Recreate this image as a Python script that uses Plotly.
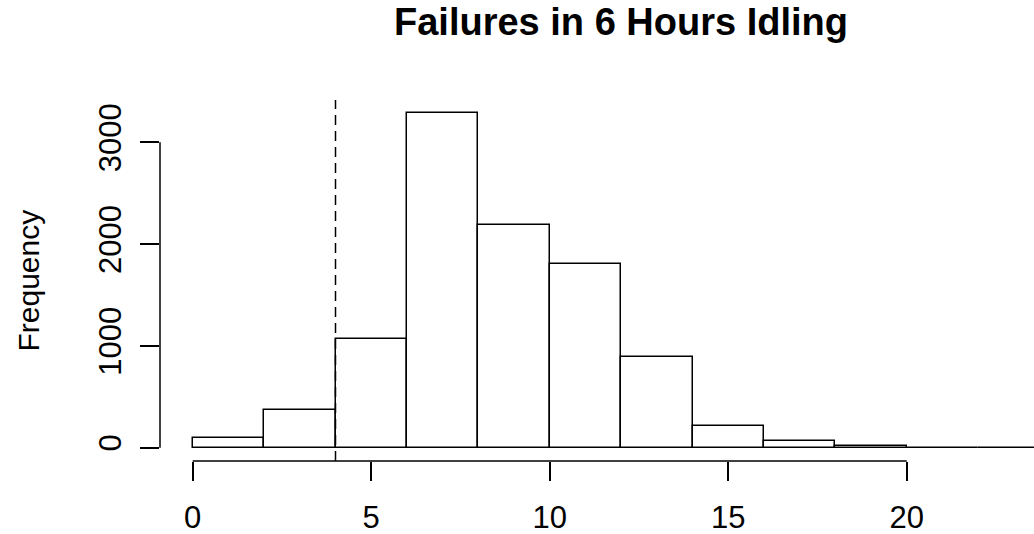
import plotly.graph_objects as go

# Histogram data (bins of width 2)
bin_starts = [0, 2, 4, 6, 8, 10, 12, 14, 16, 18, 20, 22]
bin_width = 2
counts = [98, 374, 1070, 3285, 2187, 1808, 886, 217, 62, 20, 1, 1]
x_ticks = [0, 5, 10, 15, 20]
y_ticks = [0, 1000, 2000, 3000]
cutoff = 4
title_text = "Failures in 6 Hours Idling"
ylab = "Frequency"

centers = [b + bin_width / 2 for b in bin_starts]
M = max(counts)

FONT = "Liberation Sans, Arial, sans-serif"
LW = 1.5

fig = go.Figure()
fig.add_trace(go.Bar(
    x=centers, y=counts, width=[bin_width] * len(counts),
    marker=dict(color="white", line=dict(color="black", width=LW)),
    hoverinfo="x+y", showlegend=False,
))

W, H = 1034, 534
ml, mr, mt, mb = 160, 0, 100, 73
px_per_unit = 35.7
x0 = -(192.7 - ml) / px_per_unit
x1 = x0 + (W - ml - mr) / px_per_unit

fig.update_layout(
    template="none",
    width=W, height=H,
    margin=dict(l=ml, r=mr, t=mt, b=mb, autoexpand=False),
    plot_bgcolor="white", paper_bgcolor="white",
    bargap=0,
    font=dict(family=FONT, color="black", size=31),
    title=dict(text="<b>" + title_text + "</b>", x=621 / W, xanchor="center",
               xref="container", y=1 - 22 / H, yref="container", yanchor="middle",
               font=dict(size=38, family=FONT, color="black")),
    xaxis=dict(range=[x0, x1], tickvals=x_ticks, ticks="outside", ticklen=19,
               tickwidth=LW, tickcolor="black", showline=False, showgrid=False,
               zeroline=False, ticklabelstandoff=10, tickfont=dict(size=31),
               automargin=False),
    yaxis=dict(range=[-0.04 * M, 1.04 * M], tickvals=y_ticks, ticks="outside",
               ticklen=19, tickwidth=LW, tickcolor="black", showline=False,
               showgrid=False, zeroline=False, tickangle=-90,
               ticklabelstandoff=7, tickfont=dict(size=31), automargin=False),
)

# axis lines spanning tick range (R style)
fig.add_shape(type="line", xref="paper", yref="y", x0=0, x1=0,
              y0=y_ticks[0], y1=y_ticks[-1], line=dict(color="black", width=LW))
fig.add_shape(type="line", xref="x", yref="paper", x0=x_ticks[0], x1=x_ticks[-1],
              y0=0, y1=0, line=dict(color="black", width=LW))
# dashed vertical line at cutoff
fig.add_shape(type="line", xref="x", yref="paper", x0=cutoff, x1=cutoff, y0=0, y1=1,
              line=dict(color="black", width=LW, dash="10px,6px"))

fig.add_annotation(text=ylab, textangle=-90, xref="paper", yref="paper",
                   x=(28 - ml) / (W - ml - mr), y=0.5, xanchor="center",
                   yanchor="middle", showarrow=False,
                   font=dict(size=30, family=FONT, color="black"))

fig.write_html("out.html")
